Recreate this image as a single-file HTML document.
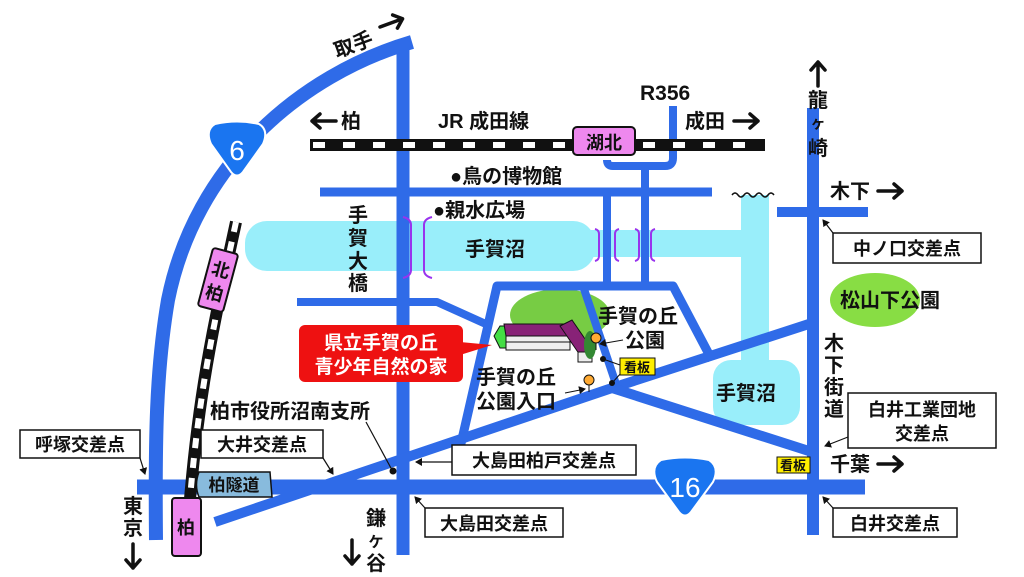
<!DOCTYPE html>
<html><head><meta charset="utf-8"><style>
html,body{margin:0;padding:0;background:#fff;}
svg{display:block;}
text{font-family:"Liberation Sans","Noto Sans CJK JP",sans-serif;font-weight:bold;fill:#111;}
</style></head><body>
<svg width="1024" height="577" viewBox="0 0 1024 577" xmlns="http://www.w3.org/2000/svg">
<defs>
<marker id="ah" markerWidth="8" markerHeight="8" refX="6" refY="4" orient="auto" markerUnits="userSpaceOnUse"><path d="M0,0 L7,4 L0,8 z" fill="#111"/></marker>
<g id="ar"><path d="M0,0 H24 M16,-7 L24,0 L16,7" stroke="#111" stroke-width="3.5" fill="none" stroke-linecap="round" stroke-linejoin="round"/></g>
</defs>
<!-- lakes -->
<g fill="#99eefa">
<rect x="245" y="221" width="350" height="50" rx="22"/>
<rect x="580" y="230" width="175" height="27"/>
<rect x="741" y="195" width="28" height="175"/>
<rect x="713" y="360" width="87" height="65" rx="18"/>
</g>
<path d="M732,195 q3,-4 6,0 q3,4 6,0 q3,-4 6,0 q3,4 6,0 q3,-4 6,0 q3,4 6,0 q3,-4 6,0" stroke="#111" stroke-width="1.5" fill="none"/>
<!-- green blobs -->
<ellipse cx="560" cy="315" rx="50" ry="26" fill="#77cc44"/>
<ellipse cx="875" cy="300" rx="45" ry="27" fill="#88dd44"/>
<!-- roads -->
<g stroke="#2f6be8" fill="none" stroke-linejoin="round">
<path d="M412,42 C300,75 195,165 168,300 C156,370 155,440 156,540" stroke-width="14"/>
<line x1="403" y1="50" x2="403" y2="555" stroke-width="13"/>
<line x1="320" y1="192" x2="712" y2="192" stroke-width="9"/>
<path d="M673,106 L673,158 Q673,166 665,166 L613,166 Q607,166 607,160" stroke-width="8"/>
<line x1="645" y1="166" x2="645" y2="288" stroke-width="8"/>
<line x1="607" y1="192" x2="607" y2="288" stroke-width="8"/>
<path d="M297,302 L437,302 L488,325" stroke-width="8"/>
<path d="M460,448 L497,286 L673,286 L712,360" stroke-width="9"/>
<path d="M583,286 L618,390" stroke-width="8"/>
<path d="M215,522 L612,388 L815,322" stroke-width="10"/>
<path d="M612,388 L812,452" stroke-width="10"/>
<line x1="137" y1="487" x2="865" y2="487" stroke-width="15"/>
<line x1="813" y1="108" x2="813" y2="535" stroke-width="12"/>
<line x1="777" y1="212" x2="868" y2="212" stroke-width="10"/>
</g>
<!-- brackets -->
<g stroke="#9933ee" stroke-width="2" fill="none">
<path d="M403,217 q8,2 8,8 v45 q0,6 -8,8"/>
<path d="M432,217 q-8,2 -8,8 v45 q0,6 8,8"/>
<path d="M595,229 q4,1 4,5 v22 q0,4 -4,5"/>
<path d="M619,229 q-4,1 -4,5 v22 q0,4 4,5"/>
<path d="M635,229 q4,1 4,5 v22 q0,4 -4,5"/>
<path d="M655,229 q-4,1 -4,5 v22 q0,4 4,5"/>
</g>
<!-- JR track -->
<rect x="310" y="139" width="455" height="12" fill="#111"/>
<g fill="#fff">
<rect x="313" y="142" width="12" height="6"/><rect x="343" y="142" width="12" height="6"/><rect x="373" y="142" width="12" height="6"/><rect x="403" y="142" width="12" height="6"/><rect x="433" y="142" width="12" height="6"/><rect x="463" y="142" width="12" height="6"/><rect x="493" y="142" width="12" height="6"/><rect x="523" y="142" width="12" height="6"/><rect x="553" y="142" width="12" height="6"/>
<rect x="643" y="142" width="12" height="6"/><rect x="673" y="142" width="12" height="6"/><rect x="703" y="142" width="12" height="6"/><rect x="733" y="142" width="12" height="6"/>
</g>
<rect x="573" y="127" width="62" height="28" rx="4" fill="#ee88ee" stroke="#111" stroke-width="2"/>
<text x="604" y="149" font-size="18" text-anchor="middle">湖北</text>
<!-- left train -->
<path d="M236,222 C215,320 195,400 186,555" stroke="#111" stroke-width="12" fill="none"/>
<path d="M236,222 C215,320 195,400 186,555" stroke="#fff" stroke-width="6" fill="none" stroke-dasharray="10 10"/>
<g transform="translate(218,280) rotate(15)">
<rect x="-13" y="-30" width="26" height="60" rx="3" fill="#ee88ee" stroke="#111" stroke-width="2"/>
<text x="0" y="-4" font-size="18" text-anchor="middle">北</text>
<text x="0" y="20" font-size="18" text-anchor="middle">柏</text>
</g>
<rect x="172" y="498" width="29" height="58" rx="3" fill="#ee88ee" stroke="#111" stroke-width="2"/>
<text x="186" y="534" font-size="18" text-anchor="middle">柏</text>
<!-- shields -->
<g transform="translate(237,150)">
<path d="M-22,-26 Q0,-31 22,-26 Q32,-20 26,-6 L6,22 Q0,29 -6,22 L-26,-6 Q-32,-20 -22,-26z" fill="#1a75f0" stroke="#fff" stroke-width="2"/>
<text x="0" y="10" font-size="28" text-anchor="middle" style="fill:#fff;font-weight:normal">6</text>
</g>
<g transform="translate(685,488)">
<path d="M-24,-28 Q0,-33 24,-28 Q35,-21 28,-6 L6,24 Q0,31 -6,24 L-28,-6 Q-35,-21 -24,-28z" fill="#1a75f0" stroke="#fff" stroke-width="2"/>
<text x="0" y="9" font-size="28" text-anchor="middle" style="fill:#fff;font-weight:normal">16</text>
</g>
<!-- building -->
<polygon points="500,326 494,336 500,348 508,348 508,326" fill="#44dd44" stroke="#111"/>
<rect x="506" y="334" width="64" height="16" fill="#eee" stroke="#111"/>
<line x1="506" y1="342" x2="570" y2="342" stroke="#111"/>
<polygon points="504,324 566,324 572,336 506,336" fill="#882277" stroke="#111"/>
<polygon points="560,326 572,320 594,352 582,358" fill="#882277" stroke="#111"/>
<rect x="578" y="352" width="14" height="10" fill="#eee" stroke="#111"/>
<ellipse cx="590" cy="345" rx="6" ry="14" fill="#338833"/>
<!-- red label -->
<rect x="299" y="325" width="164" height="57" rx="6" fill="#ee1111"/>
<polygon points="460,342 492,345 460,355" fill="#ee1111"/>
<text x="381" y="349" font-size="19" text-anchor="middle" style="fill:#fff">県立手賀の丘</text>
<text x="381" y="373" font-size="19" text-anchor="middle" style="fill:#fff">青少年自然の家</text>
<!-- markers -->
<circle cx="596" cy="338" r="5" fill="#ffaa33" stroke="#111"/><line x1="596" y1="343" x2="596" y2="350" stroke="#111"/>
<circle cx="589" cy="380" r="5" fill="#ffaa33" stroke="#111"/><line x1="589" y1="385" x2="589" y2="392" stroke="#111"/>
<circle cx="603" cy="359" r="3" fill="#111"/><circle cx="612" cy="383" r="3" fill="#111"/>
<line x1="603" y1="359" x2="620" y2="365" stroke="#111"/><line x1="612" y1="383" x2="622" y2="372" stroke="#111"/>
<line x1="623" y1="340" x2="600" y2="344" stroke="#111" marker-end="url(#ah)"/>
<line x1="565" y1="393" x2="585" y2="389" stroke="#111" marker-end="url(#ah)"/>
<rect x="620" y="358" width="35" height="17" fill="#ffee00" stroke="#111"/>
<text x="637" y="372" font-size="13" text-anchor="middle">看板</text>
<rect x="777" y="457" width="33" height="16" fill="#ffee00" stroke="#111"/>
<text x="793" y="470" font-size="13" text-anchor="middle">看板</text>
<!-- 柏隧道 -->
<path d="M199,472 L270,472 L272,497 L199,497 Q194,485 199,472z" fill="#88bbdd" stroke="#111" stroke-width="1.5"/>
<text x="234" y="491" font-size="17" text-anchor="middle">柏隧道</text>
<!-- boxes -->
<g fill="#fff" stroke="#111" stroke-width="1.5">
<rect x="20" y="430" width="120" height="28"/>
<rect x="201" y="430" width="122" height="28"/>
<rect x="452" y="445" width="184" height="30"/>
<rect x="425" y="508" width="138" height="29"/>
<rect x="833" y="233" width="148" height="30"/>
<rect x="848" y="393" width="148" height="55"/>
<rect x="833" y="508" width="124" height="29"/>
</g>
<g font-size="18">
<text x="80" y="451" text-anchor="middle">呼塚交差点</text>
<text x="262" y="451" text-anchor="middle">大井交差点</text>
<text x="544" y="467" text-anchor="middle">大島田柏戸交差点</text>
<text x="494" y="530" text-anchor="middle">大島田交差点</text>
<text x="907" y="255" text-anchor="middle">中ノ口交差点</text>
<text x="922" y="416" text-anchor="middle">白井工業団地</text>
<text x="922" y="440" text-anchor="middle">交差点</text>
<text x="895" y="530" text-anchor="middle">白井交差点</text>
</g>
<!-- pointer arrows -->
<g stroke="#111" stroke-width="1.2" fill="none">
<line x1="140" y1="458" x2="145" y2="474" marker-end="url(#ah)"/>
<line x1="323" y1="458" x2="333" y2="474" marker-end="url(#ah)"/>
<line x1="452" y1="462" x2="416" y2="462" marker-end="url(#ah)"/>
<line x1="425" y1="508" x2="415" y2="497" marker-end="url(#ah)"/>
<line x1="833" y1="233" x2="823" y2="220" marker-end="url(#ah)"/>
<line x1="848" y1="437" x2="825" y2="446" marker-end="url(#ah)"/>
<line x1="833" y1="508" x2="823" y2="497" marker-end="url(#ah)"/>
<line x1="366" y1="422" x2="392" y2="470"/>
</g>
<circle cx="393" cy="471" r="3.5" fill="#111"/>
<!-- big arrows -->
<use href="#ar" transform="translate(336,121) rotate(180)"/>
<use href="#ar" transform="translate(734,121)"/>
<use href="#ar" transform="translate(878,191)"/>
<use href="#ar" transform="translate(878,464)"/>
<use href="#ar" transform="translate(380,27) rotate(-20)"/>
<use href="#ar" transform="translate(818,86) rotate(-90)"/>
<use href="#ar" transform="translate(133,544) rotate(90)"/>
<use href="#ar" transform="translate(352,540) rotate(90)"/>
<!-- labels -->
<g font-size="20">
<text x="341" y="128">柏</text>
<text x="438" y="128">JR 成田線</text>
<text x="640" y="100" font-size="21">R356</text>
<text x="685" y="128">成田</text>
<text x="450" y="183">●鳥の博物館</text>
<text x="433" y="217">●親水広場</text>
<text x="465" y="256">手賀沼</text>
<text x="716" y="400">手賀沼</text>
<text x="476" y="384">手賀の丘</text>
<text x="476" y="408">公園入口</text>
<text x="598" y="323">手賀の丘</text>
<text x="625" y="347">公園</text>
<text x="210" y="418">柏市役所沼南支所</text>
<text x="840" y="307">松山下公園</text>
<text x="830" y="198">木下</text>
<text x="830" y="471">千葉</text>
<text transform="translate(337,58) rotate(-20)">取手</text>
</g>
<g font-size="20" text-anchor="middle">
<text x="358" y="222">手</text><text x="358" y="245">賀</text><text x="358" y="268">大</text><text x="358" y="290">橋</text>
<text x="834" y="350">木</text><text x="834" y="372">下</text><text x="834" y="394">街</text><text x="834" y="416">道</text>
<text x="818" y="107">龍</text><text x="818" y="128" font-size="15">ヶ</text><text x="818" y="155">崎</text>
<text x="133" y="513">東</text><text x="133" y="535">京</text>
<text x="376" y="525">鎌</text><text x="376" y="547" font-size="15">ケ</text><text x="376" y="570">谷</text>
</g>
</svg>
</body></html>
